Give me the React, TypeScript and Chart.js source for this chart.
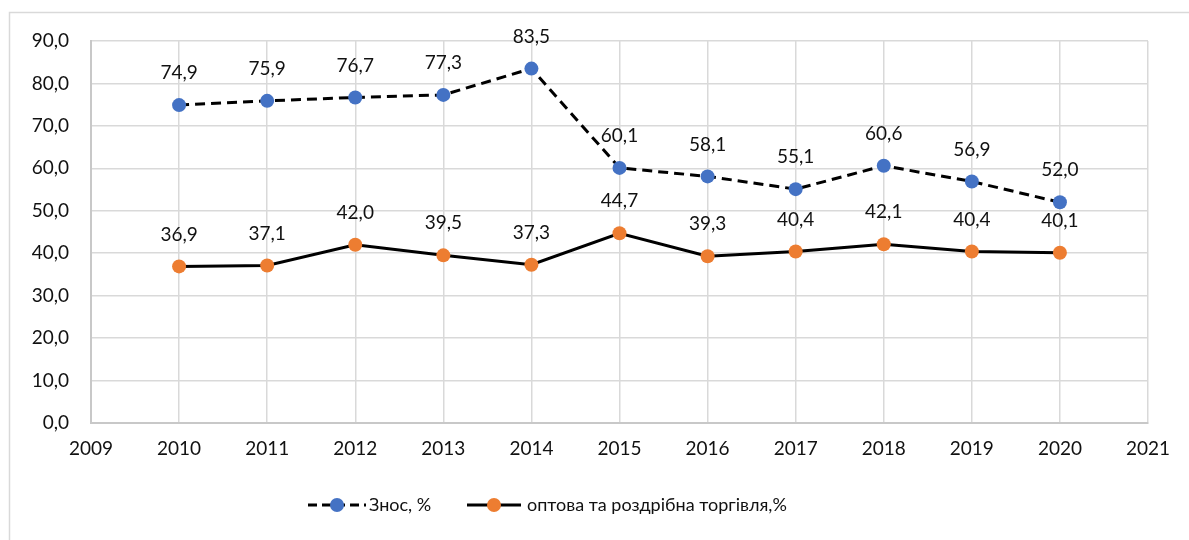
import React, { useEffect, useRef } from "react";
import { Chart, registerables } from "chart.js";

Chart.register(...registerables);

const years = [2010, 2011, 2012, 2013, 2014, 2015, 2016, 2017, 2018, 2019, 2020];
const znosValues = [74.9, 75.9, 76.7, 77.3, 83.5, 60.1, 58.1, 55.1, 60.6, 56.9, 52.0];
const tradeValues = [36.9, 37.1, 42.0, 39.5, 37.3, 44.7, 39.3, 40.4, 42.1, 40.4, 40.1];
const seriesNames = ["Знос, %", "оптова та роздрібна торгівля,%"];

const BLUE = "#4472C4";
const ORANGE = "#ED7D31";
const FONT = "Lato, 'Open Sans', sans-serif";
const fmt = (v: number) => v.toFixed(1).replace(".", ",");

export default function App() {
  const ref = useRef<HTMLCanvasElement>(null);
  useEffect(() => {
    document.body.style.margin = "0";
    const canvas = ref.current!;
    const frame = {
      id: "frame",
      beforeDraw(chart: any) {
        const c = chart.ctx;
        c.save();
        c.fillStyle = "#fff";
        c.fillRect(0, 0, chart.width, chart.height);
        c.strokeStyle = "#d9d9d9";
        c.lineWidth = 1.5;
        c.strokeRect(9.5, 12.5, chart.width + 20, chart.height + 20);
        c.restore();
      },
    };
    const labels = {
      id: "labels",
      afterDatasetsDraw(chart: any) {
        const c = chart.ctx;
        c.save();
        c.font = `19px ${FONT}`;
        c.fillStyle = "#111";
        c.textAlign = "center";
        c.textBaseline = "middle";
        chart.data.datasets.forEach((ds: any, i: number) => {
          const meta = chart.getDatasetMeta(i);
          meta.data.forEach((pt: any, j: number) => {
            c.fillText(fmt(ds.data[j].y), pt.x, pt.y - 32);
          });
        });
        c.restore();
      },
    };
    const legend = {
      id: "customLegend",
      afterDraw(chart: any) {
        const c = chart.ctx;
        const y = 505;
        c.save();
        c.font = `18px ${FONT}`;
        c.fillStyle = "#111";
        c.textBaseline = "middle";
        c.textAlign = "left";
        // item 1
        c.strokeStyle = "#000";
        c.lineWidth = 3;
        c.setLineDash([9, 5]);
        c.beginPath();
        c.moveTo(308, y);
        c.lineTo(366, y);
        c.stroke();
        c.setLineDash([]);
        c.fillStyle = BLUE;
        c.beginPath();
        c.arc(337, y, 7, 0, Math.PI * 2);
        c.fill();
        c.fillStyle = "#111";
        c.fillText(seriesNames[0], 369, y);
        // item 2
        c.beginPath();
        c.moveTo(467, y);
        c.lineTo(521, y);
        c.stroke();
        c.fillStyle = ORANGE;
        c.beginPath();
        c.arc(494, y, 7, 0, Math.PI * 2);
        c.fill();
        c.fillStyle = "#111";
        c.fillText(seriesNames[1], 527, y);
        c.restore();
      },
    };
    const chart = new Chart(canvas, {
      type: "line",
      data: {
        datasets: [
          {
            label: seriesNames[0],
            data: years.map((x, i) => ({ x, y: znosValues[i] })),
            borderColor: "#000",
            borderWidth: 3,
            borderDash: [10, 6],
            pointBackgroundColor: BLUE,
            pointBorderColor: BLUE,
            pointRadius: 7,
            pointBorderWidth: 0,
            tension: 0,
          },
          {
            label: seriesNames[1],
            data: years.map((x, i) => ({ x, y: tradeValues[i] })),
            borderColor: "#000",
            borderWidth: 3,
            pointBackgroundColor: ORANGE,
            pointBorderColor: ORANGE,
            pointRadius: 7,
            pointBorderWidth: 0,
            tension: 0,
          },
        ],
      },
      options: {
        animation: false,
        responsive: false,
        devicePixelRatio: 1,
        layout: { padding: { left: 0, top: 41, right: 41, bottom: 67 } },
        plugins: { legend: { display: false }, tooltip: { enabled: false } },
        scales: {
          x: {
            type: "linear",
            min: 2009,
            max: 2021,
            ticks: {
              stepSize: 1,
              callback: (v: any) => String(v),
              font: { family: FONT, size: 19 },
              color: "#111",
              padding: 14,
              maxRotation: 0,
            },
            grid: { color: "#d9d9d9", lineWidth: 1.5, drawTicks: false },
            border: { color: "#c8c8c8", width: 2 },
            afterFit(scale: any) {
              scale.height = 50;
            },
          },
          y: {
            min: 0,
            max: 90,
            ticks: {
              stepSize: 10,
              callback: (v: any) => fmt(Number(v)),
              font: { family: FONT, size: 19 },
              color: "#111",
              padding: 22,
            },
            grid: { color: "#d9d9d9", lineWidth: 1.5, drawTicks: false },
            border: { color: "#c8c8c8", width: 2 },
            afterFit(scale: any) {
              scale.width = 91;
            },
          },
        },
      },
      plugins: [frame, labels, legend],
    } as any);
    return () => chart.destroy();
  }, []);
  return <canvas ref={ref} width={1189} height={540} style={{ display: "block" }} />;
}
